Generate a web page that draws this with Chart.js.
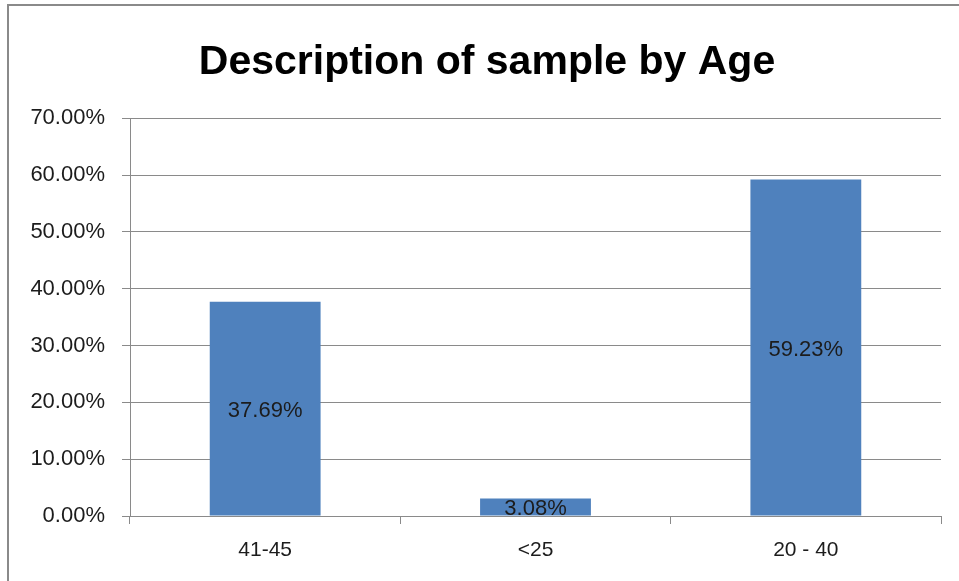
<!DOCTYPE html>
<html>
<head>
<meta charset="utf-8">
<script src="https://cdn.jsdelivr.net/npm/chart.js@4.4.1/dist/chart.umd.min.js"></script>
<style>
  html, body { margin: 0; padding: 0; background: #fff; overflow: hidden; }
  #frame {
    position: absolute; left: 0; top: 0; width: 959px; height: 581px;
  }
  #border {
    position: absolute; left: 7px; top: 4px; width: 980px; height: 600px;
    border: 2px solid #8a8a8a; box-sizing: border-box;
  }
  canvas { position: absolute; left: 0; top: 0; }
</style>
</head>
<body>
<div id="frame">
  <div id="border"></div>
  <canvas id="ageChart" width="959" height="581"></canvas>
</div>
<script>
// chart data
var titleText = "Description of sample by Age";
var ageGroups = ["41-45", "<25", "20 - 40"];
var sharePct = [37.69, 3.08, 59.23];
var yTicks = [0, 10, 20, 30, 40, 50, 60, 70];

var FONT = "'Liberation Sans', Arial, sans-serif";

// writes the value in the middle of each bar, like Excel's "Center" data labels
var centerLabels = {
    id: "centerLabels",
    afterDatasetsDraw: function (chart) {
        var ctx = chart.ctx;
        var meta = chart.getDatasetMeta(0);
        ctx.save();
        ctx.font = "22px " + FONT;
        ctx.fillStyle = "#1c1c1c";
        ctx.textAlign = "center";
        ctx.textBaseline = "middle";
        meta.data.forEach(function (bar, i) {
            var p = bar.getProps(["x", "y", "base"], true);
            ctx.fillText(sharePct[i].toFixed(2) + "%", p.x, (p.y + p.base) / 2 + 2);
        });
        ctx.restore();
    }
};

new Chart(document.getElementById("ageChart"), {
    type: "bar",
    data: {
        labels: ageGroups,
        datasets: [{
            data: sharePct,
            backgroundColor: "#4f81bd",
            borderWidth: 0,
            barPercentage: 0.82,
            categoryPercentage: 0.5
        }]
    },
    options: {
        responsive: false,
        animation: false,
        devicePixelRatio: 1,
        layout: { padding: { left: 15, right: 0, top: 38, bottom: 0 } },
        plugins: {
            legend: { display: false },
            tooltip: { enabled: false },
            title: {
                display: true,
                text: titleText,
                color: "#000",
                font: { family: FONT, size: 41, weight: "bold" },
                padding: { top: 0, bottom: 31 }
            }
        },
        scales: {
            x: {
                afterFit: function (s) { s.height = 65; },
                grid: {
                    offset: true,
                    drawOnChartArea: false,
                    drawTicks: true,
                    tickLength: 8,
                    color: "#8a8a8a"
                },
                border: { display: true, color: "#8a8a8a", width: 1 },
                ticks: {
                    color: "#1c1c1c",
                    padding: 14,
                    font: { family: FONT, size: 21 }
                }
            },
            y: {
                min: 0,
                max: 70,
                afterFit: function (s) { s.width = 115; },
                afterBuildTicks: function (s) {
                    s.ticks = yTicks.map(function (v) { return { value: v }; });
                },
                grid: {
                    color: "#8a8a8a",
                    tickLength: 8,
                    drawTicks: true
                },
                border: { display: true, color: "#8a8a8a", width: 1 },
                ticks: {
                    color: "#1c1c1c",
                    padding: 17,
                    font: { family: FONT, size: 22 },
                    callback: function (v) { return v.toFixed(2) + "%"; }
                }
            },
            // empty right-hand axis, only keeps the white gap right of the plot
            spacer: {
                type: "linear",
                position: "right",
                afterFit: function (s) { s.width = 18; },
                grid: { drawOnChartArea: false, drawTicks: false },
                border: { display: false },
                ticks: { display: false }
            }
        }
    },
    plugins: [centerLabels]
});
</script>
</body>
</html>
